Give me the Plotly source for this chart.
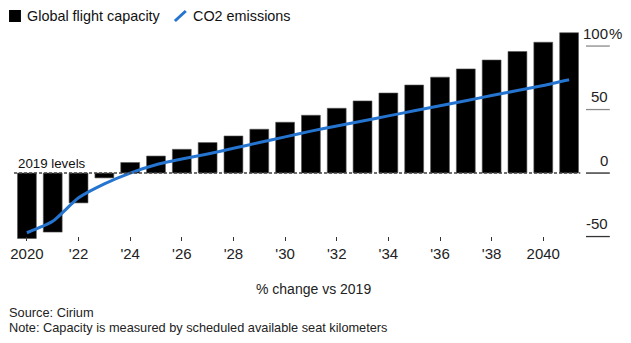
import plotly.graph_objects as go

# ---- data ----
years = list(range(2020, 2042))
capacity = [-51.5, -46.5, -23.5, -3.8, 8.3, 13.4, 18.7, 24.0, 29.2, 34.5, 40.0,
            45.5, 51.0, 56.8, 63.0, 69.3, 75.5, 82.0, 89.0, 95.7, 103.0, 110.5]
co2 = [-47.0, -38.0, -19.5, -8.5, 0.0, 6.5, 11.0, 15.0, 19.5, 24.0, 28.5,
       33.0, 37.0, 41.0, 45.0, 49.0, 53.0, 57.0, 61.0, 65.0, 69.0, 73.5]
x_tickvals = [2020, 2022, 2024, 2026, 2028, 2030, 2032, 2034, 2036, 2038, 2040]
x_ticktext = ["2020", "'22", "'24", "'26", "'28", "'30", "'32", "'34", "'36", "'38", "2040"]
y_tickvals = [100, 50, 0, -50]
y_ticktext = ["100", "50", "0", "-50"]
y_tickcolors = ["#8a8a8a", "#8a8a8a", "#222222", "#333333"]

FONT = "Arial, Liberation Sans, Helvetica, sans-serif"
W, H = 631, 343
ML, MR, MT, MB = 10, 49, 27, 102
PW = W - ML - MR
PH = H - MT - MB


def px_x(p):
    return (p - ML) / PW


def px_y(p):
    return (H - MB - p) / PH


BLUE = "#2474d0"

fig = go.Figure()
fig.add_trace(go.Bar(x=years, y=capacity, marker=dict(color="#000000", line=dict(color="#555555", width=0.6)),
                     name="Global flight capacity", showlegend=False))
fig.add_trace(go.Scatter(x=years, y=co2, mode="lines", line=dict(color=BLUE, width=3, shape="spline", smoothing=0.6),
                         name="CO2 emissions", showlegend=False))

shapes = []
annotations = []

# dashed 2019 level line
shapes.append(dict(type="line", xref="paper", yref="y", x0=0, x1=0.997, y0=0, y1=0,
                   line=dict(color="#444444", width=1.5, dash="3px,2px"), layer="above"))

# right axis labels with short rule under each
for v, t, c in zip(y_tickvals, y_ticktext, y_tickcolors):
    shapes.append(dict(type="line", xref="paper", yref="y", x0=px_x(586), x1=px_x(610), y0=v, y1=v,
                       line=dict(color=c, width=1.3)))
    annotations.append(dict(xref="paper", yref="y", x=px_x(610), y=v, text=t, showarrow=False,
                            xanchor="right", yanchor="middle", yshift=13,
                            font=dict(family=FONT, size=15, color="#222222")))
annotations.append(dict(xref="paper", yref="y", x=px_x(610), y=y_tickvals[0], text="%", showarrow=False,
                        xanchor="left", yanchor="middle", yshift=13, xshift=-3,
                        font=dict(family=FONT, size=15, color="#222222")))

# 2019 levels label
annotations.append(dict(xref="paper", yref="y", x=px_x(12), y=0, text="2019 levels", showarrow=False,
                        xanchor="left", yanchor="middle", yshift=10,
                        font=dict(family=FONT, size=13.3, color="#111111")))

# custom legend
shapes.append(dict(type="rect", xref="paper", yref="paper", x0=px_x(5), x1=px_x(17), y0=px_y(22), y1=px_y(10),
                   fillcolor="#000000", line=dict(width=0)))
annotations.append(dict(xref="paper", yref="paper", x=px_x(21), y=px_y(16), text="Global flight capacity",
                        showarrow=False, xanchor="left", yanchor="middle",
                        font=dict(family=FONT, size=14.4, color="#111111")))
shapes.append(dict(type="line", xref="paper", yref="paper", x0=px_x(172), x1=px_x(183), y0=px_y(21), y1=px_y(11),
                   line=dict(color=BLUE, width=3)))
annotations.append(dict(xref="paper", yref="paper", x=px_x(188), y=px_y(16), text="CO2 emissions",
                        showarrow=False, xanchor="left", yanchor="middle",
                        font=dict(family=FONT, size=14.4, color="#111111")))

# axis title and footnotes
annotations.append(dict(xref="paper", yref="paper", x=px_x(312), y=px_y(289), text="% change vs 2019",
                        showarrow=False, xanchor="center", yanchor="middle",
                        font=dict(family=FONT, size=14, color="#222222")))
annotations.append(dict(xref="paper", yref="paper", x=px_x(3), y=px_y(312.5), text="Source: Cirium",
                        showarrow=False, xanchor="left", yanchor="middle",
                        font=dict(family=FONT, size=12.8, color="#222222")))
annotations.append(dict(xref="paper", yref="paper", x=px_x(3), y=px_y(327.5),
                        text="Note: Capacity is measured by scheduled available seat kilometers",
                        showarrow=False, xanchor="left", yanchor="middle",
                        font=dict(family=FONT, size=12.75, color="#222222")))

fig.update_layout(
    width=W, height=H,
    margin=dict(l=ML, r=MR, t=MT, b=MB, pad=0),
    paper_bgcolor="white", plot_bgcolor="white",
    bargap=0.27,
    showlegend=False,
    shapes=shapes, annotations=annotations,
    xaxis=dict(range=[2019.5, 2041.5], tickvals=x_tickvals, ticktext=x_ticktext,
               ticks="inside", ticklen=4, tickcolor="#333333", tickwidth=1,
               ticklabelstandoff=2,
               showgrid=False, zeroline=False, showline=False,
               tickfont=dict(family=FONT, size=15, color="#222222")),
    yaxis=dict(range=[-53.5, 115], showticklabels=False, showgrid=False, zeroline=False,
               showline=False, ticks=""),
)

fig.write_html("out.html")
